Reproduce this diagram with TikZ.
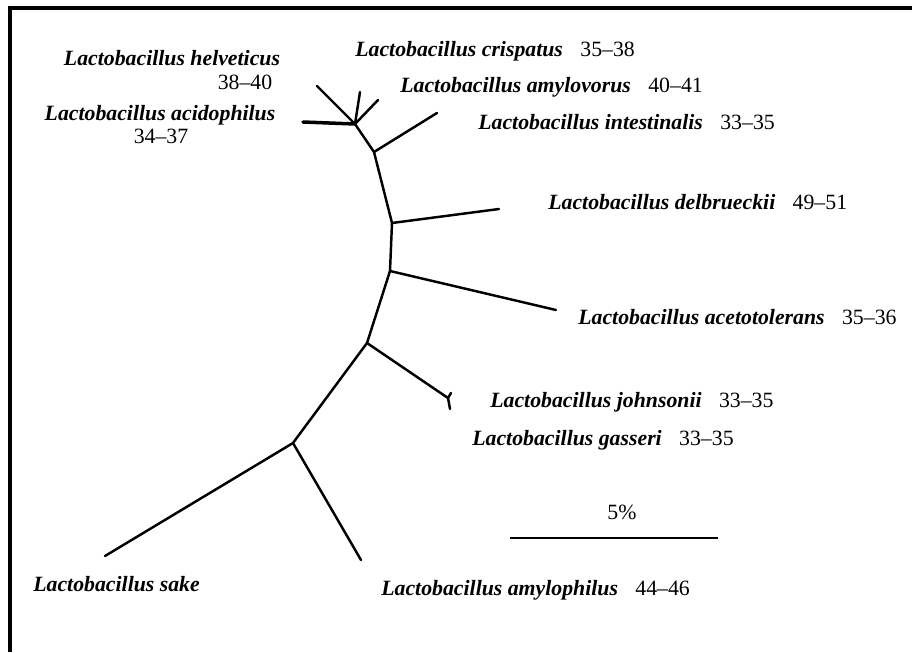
\documentclass[tikz,border=0pt]{standalone}
\usepackage{fontspec}
\setmainfont{Liberation Serif}
\newcommand{\lacto}[1]{\textbf{\textit{Lactobacillus #1}}}
\begin{document}
\begin{tikzpicture}[x=0.02cm,y=-0.02cm,
  branch/.style={line width=1.4pt,line cap=round,line join=round},
  frameline/.style={line width=1.8pt},
  species/.style={inner sep=0pt,font=\fontsize{12.4}{14}\selectfont},
  scalebar/.style={line width=1.2pt}]
\useasboundingbox (0,0) rectangle (912,652);
% frame (left and top edges)
\draw[frameline] (10,652) -- (10,8) -- (912,8);

% internal nodes of the tree
\coordinate (j1) at (355,124);
\coordinate (j2) at (374,152);
\coordinate (j3) at (392,223);
\coordinate (j4) at (390,271);
\coordinate (j5) at (367,343);
\coordinate (j6) at (448,398);
\coordinate (j7) at (293,443);
% leaves
\coordinate (acid) at (303,122);
\coordinate (helv) at (317,86);
\coordinate (cris) at (360,92);
\coordinate (amylo) at (378,100);
\coordinate (intes) at (437,113);
\coordinate (delb) at (499,209);
\coordinate (acet) at (556,310);
\coordinate (john) at (451,393);
\coordinate (gass) at (450,409);
\coordinate (sake) at (105,556);
\coordinate (amph) at (361,560);

% branches
\draw[branch] (j1) -- (helv);
\draw[branch] (j1) -- (cris);
\draw[branch] (j1) -- (amylo);
\draw[branch,line width=2pt] (j1) -- (acid);
\draw[branch] (j1) -- (j2) -- (j3) -- (j4) -- (j5) -- (j7);
\draw[branch] (j2) -- (intes);
\draw[branch] (j3) -- (delb);
\draw[branch] (j4) -- (acet);
\draw[branch] (j5) -- (j6);
\draw[branch] (j6) -- (john);
\draw[branch] (j6) -- (gass);
\draw[branch] (j7) -- (sake);
\draw[branch] (j7) -- (amph);

% labels
\node[species] (lhelv) at (172,58) {\lacto{helveticus}};
\node[species] (nhelv) at (245,82) {38--40};
\node[species] (lacid) at (160,115) {\lacto{acidophilus}};
\node[species] (nacid) at (161,136) {34--37};
\node[species,anchor=west] (lcris) at (355,51) {\lacto{crispatus}\hspace{0.8em}35--38};
\node[species,anchor=west] (lamylo) at (400,87) {\lacto{amylovorus}\hspace{0.8em}40--41};
\node[species,anchor=west] (lintes) at (478,122) {\lacto{intestinalis}\hspace{0.8em}33--35};
\node[species,anchor=west] (ldelb) at (548,202) {\lacto{delbrueckii}\hspace{0.8em}49--51};
\node[species,anchor=west] (lacet) at (578,317) {\lacto{acetotolerans}\hspace{0.8em}35--36};
\node[species,anchor=west] (ljohn) at (490,402) {\lacto{johnsonii}\hspace{0.8em}33--35};
\node[species,anchor=west] (lgass) at (472,440) {\lacto{gasseri}\hspace{0.8em}33--35};
\node[species,anchor=west] (lsake) at (33,584) {\lacto{sake}};
\node[species,anchor=west] (lamph) at (381,590) {\lacto{amylophilus}\hspace{0.8em}44--46};

% scale bar
\coordinate (bar0) at (510,538);
\coordinate (bar1) at (718,538);
\draw[scalebar] (bar0) -- (bar1);
\node[species] (lbar) at (622,512) {5\%};
\end{tikzpicture}
\end{document}
